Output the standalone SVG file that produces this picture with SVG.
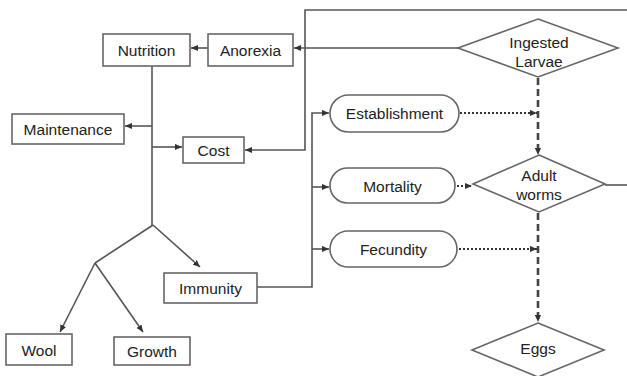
<svg xmlns="http://www.w3.org/2000/svg" width="627" height="376" viewBox="0 0 627 376">
<style>
.box{fill:#fff;stroke:#666;stroke-width:1.6}
.t{font-family:"Liberation Sans",Arial,sans-serif;font-size:15.5px;fill:#222;text-anchor:middle;dominant-baseline:central}
.ln{fill:none;stroke:#555;stroke-width:1.6}
.dot{fill:none;stroke:#333;stroke-width:2.2;stroke-dasharray:2 2}
.dash{fill:none;stroke:#444;stroke-width:2.6;stroke-dasharray:7 4}
</style>
<defs>
<marker id="a" viewBox="0 0 8 8" refX="8" refY="4" markerWidth="7" markerHeight="7" markerUnits="userSpaceOnUse" orient="auto">
<path d="M0,0.5 L8,4 L0,7.5 Z" fill="#333"/>
</marker>
</defs>
<rect width="627" height="376" fill="#fff"/>
<g id="connectors">
<line class="ln" x1="208" y1="48" x2="191" y2="48" marker-end="url(#a)"/>
<polyline class="ln" points="627,10 305,10 305,150 245,150" marker-end="url(#a)"/>
<line class="ln" x1="458" y1="48" x2="294" y2="48" marker-end="url(#a)"/>
<line class="ln" x1="152" y1="66" x2="152" y2="225"/>
<line class="ln" x1="152" y1="126" x2="125" y2="126" marker-end="url(#a)"/>
<line class="ln" x1="152" y1="147" x2="182" y2="147" marker-end="url(#a)"/>
<polyline class="ln" points="153,225 200,267" marker-end="url(#a)"/>
<polyline class="ln" points="153,225 95,263"/>
<polyline class="ln" points="95,263 60,332" marker-end="url(#a)"/>
<polyline class="ln" points="95,263 143,332" marker-end="url(#a)"/>
<polyline class="ln" points="257,287 312,287 312,113 329,113" marker-end="url(#a)"/>
<line class="ln" x1="312" y1="187" x2="329" y2="187" marker-end="url(#a)"/>
<line class="ln" x1="312" y1="249" x2="329" y2="249" marker-end="url(#a)"/>
<line class="ln" x1="605" y1="185" x2="627" y2="185"/>
<line class="dot" x1="460" y1="113" x2="537" y2="113" marker-end="url(#a)"/>
<line class="dot" x1="457" y1="186" x2="472" y2="186" marker-end="url(#a)"/>
<line class="dot" x1="459" y1="249" x2="537" y2="249" marker-end="url(#a)"/>
<line class="dash" x1="538" y1="78" x2="538" y2="155" marker-end="url(#a)"/>
<line class="dash" x1="538" y1="213" x2="538" y2="322" marker-end="url(#a)"/>
</g>
<g id="nutrition"><rect class="box" x="103" y="34" width="87" height="32"/><text class="t" x="146.5" y="50">Nutrition</text></g>
<g id="anorexia"><rect class="box" x="208" y="34" width="85" height="32"/><text class="t" x="250.5" y="50">Anorexia</text></g>
<g id="maintenance"><rect class="box" x="12" y="114" width="112" height="30"/><text class="t" x="68" y="129">Maintenance</text></g>
<g id="cost"><rect class="box" x="183" y="137" width="61" height="26"/><text class="t" x="213.5" y="150">Cost</text></g>
<g id="immunity"><rect class="box" x="164" y="273" width="93" height="30"/><text class="t" x="210.5" y="288">Immunity</text></g>
<g id="wool"><rect class="box" x="6" y="334" width="66" height="31"/><text class="t" x="39" y="350">Wool</text></g>
<g id="growth"><rect class="box" x="114" y="337" width="76" height="28"/><text class="t" x="152" y="351">Growth</text></g>
<g id="establishment"><rect class="box" x="330" y="95" width="129" height="37" rx="18.5"/><text class="t" x="394.5" y="113">Establishment</text></g>
<g id="mortality"><rect class="box" x="330" y="168" width="125" height="35" rx="17.5"/><text class="t" x="392.5" y="186">Mortality</text></g>
<g id="fecundity"><rect class="box" x="330" y="231" width="127" height="36" rx="18"/><text class="t" x="393.5" y="249">Fecundity</text></g>
<g id="ingested-larvae"><polygon class="box" points="538,19 618,48 538,77 458,48"/><text class="t" x="539" y="42">Ingested</text><text class="t" x="539" y="61">Larvae</text></g>
<g id="adult-worms"><polygon class="box" points="539,155 605,184 539,212 473,184"/><text class="t" x="539" y="175">Adult</text><text class="t" x="539" y="194">worms</text></g>
<g id="eggs"><polygon class="box" points="538,323 604,350 538,377 472,350"/><text class="t" x="538" y="348">Eggs</text></g>
</svg>
